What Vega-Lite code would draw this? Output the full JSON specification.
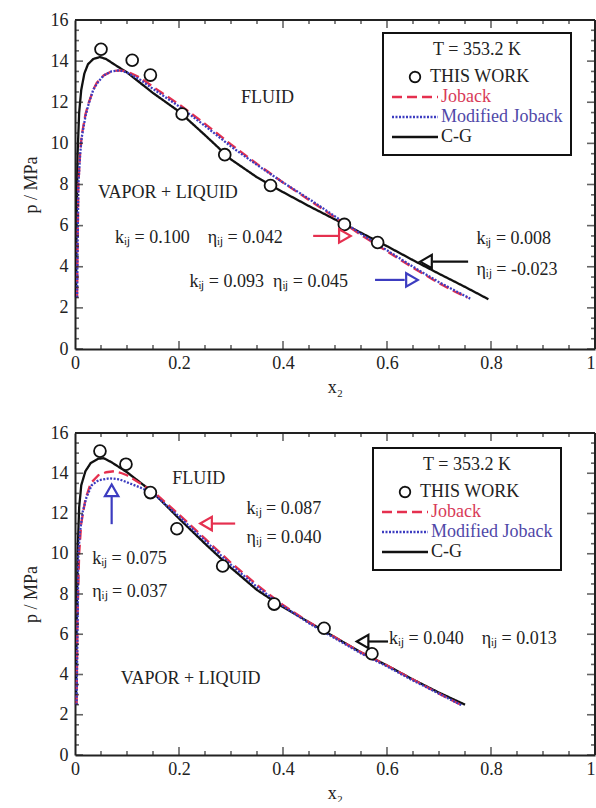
{
  "$schema": "https://vega.github.io/schema/vega-lite/v6.json",
  "background": "white",
  "padding": {"left": 22, "top": 11, "right": 0, "bottom": 0},
  "config": {
    "font": "Liberation Serif",
    "view": {"stroke": null},
    "concat": {"spacing": 28},
    "axis": {
      "grid": false,
      "domain": true,
      "domainColor": "#222",
      "domainWidth": 2,
      "ticks": false,
      "labelFont": "Liberation Serif",
      "labelFontSize": 18,
      "labelColor": "#222",
      "titleFont": "Liberation Serif",
      "titleFontSize": 18,
      "titleFontWeight": "normal",
      "titleColor": "#222",
      "labelOverlap": false,
      "labelFlush": false
    },
    "legend": {
      "titleFont": "Liberation Serif", "titleFontSize": 18, "titleFontWeight": "normal", "titleColor": "#222", "titleAnchor": "middle", "titlePadding": 8,
      "labelFont": "Liberation Serif", "labelFontSize": 18,
      "symbolSize": 2116, "clipHeight": 20, "rowPadding": 0,
      "strokeColor": "#111", "fillColor": "white", "padding": 8, "strokeWidth": 2
    }
  },
  "datasets": {
    "xticks": [
      {"v": 0, "kind": "major"}, {"v": 0.05, "kind": "minor"}, {"v": 0.1, "kind": "minor"}, {"v": 0.15, "kind": "minor"},
      {"v": 0.2, "kind": "major"}, {"v": 0.25, "kind": "minor"}, {"v": 0.3, "kind": "minor"}, {"v": 0.35, "kind": "minor"},
      {"v": 0.4, "kind": "major"}, {"v": 0.45, "kind": "minor"}, {"v": 0.5, "kind": "minor"}, {"v": 0.55, "kind": "minor"},
      {"v": 0.6, "kind": "major"}, {"v": 0.65, "kind": "minor"}, {"v": 0.7, "kind": "minor"}, {"v": 0.75, "kind": "minor"},
      {"v": 0.8, "kind": "major"}, {"v": 0.85, "kind": "minor"}, {"v": 0.9, "kind": "minor"}, {"v": 0.95, "kind": "minor"},
      {"v": 1, "kind": "major"}
    ],
    "yticks": [
      {"v": 0, "kind": "major"}, {"v": 0.5, "kind": "minor"}, {"v": 1, "kind": "minor"}, {"v": 1.5, "kind": "minor"},
      {"v": 2, "kind": "major"}, {"v": 2.5, "kind": "minor"}, {"v": 3, "kind": "minor"}, {"v": 3.5, "kind": "minor"},
      {"v": 4, "kind": "major"}, {"v": 4.5, "kind": "minor"}, {"v": 5, "kind": "minor"}, {"v": 5.5, "kind": "minor"},
      {"v": 6, "kind": "major"}, {"v": 6.5, "kind": "minor"}, {"v": 7, "kind": "minor"}, {"v": 7.5, "kind": "minor"},
      {"v": 8, "kind": "major"}, {"v": 8.5, "kind": "minor"}, {"v": 9, "kind": "minor"}, {"v": 9.5, "kind": "minor"},
      {"v": 10, "kind": "major"}, {"v": 10.5, "kind": "minor"}, {"v": 11, "kind": "minor"}, {"v": 11.5, "kind": "minor"},
      {"v": 12, "kind": "major"}, {"v": 12.5, "kind": "minor"}, {"v": 13, "kind": "minor"}, {"v": 13.5, "kind": "minor"},
      {"v": 14, "kind": "major"}, {"v": 14.5, "kind": "minor"}, {"v": 15, "kind": "minor"}, {"v": 15.5, "kind": "minor"},
      {"v": 16, "kind": "major"}
    ],
    "top_curves": [
      {"series": "C-G", "x": 0.002, "p": 2.5},
      {"series": "C-G", "x": 0.003, "p": 6.0},
      {"series": "C-G", "x": 0.005, "p": 9.5},
      {"series": "C-G", "x": 0.008, "p": 11.5},
      {"series": "C-G", "x": 0.012, "p": 12.6},
      {"series": "C-G", "x": 0.018, "p": 13.4},
      {"series": "C-G", "x": 0.025, "p": 13.85},
      {"series": "C-G", "x": 0.035, "p": 14.1},
      {"series": "C-G", "x": 0.048, "p": 14.2},
      {"series": "C-G", "x": 0.06, "p": 14.1},
      {"series": "C-G", "x": 0.075, "p": 13.85},
      {"series": "C-G", "x": 0.1, "p": 13.45},
      {"series": "C-G", "x": 0.125, "p": 12.95},
      {"series": "C-G", "x": 0.15, "p": 12.45},
      {"series": "C-G", "x": 0.175, "p": 12.0},
      {"series": "C-G", "x": 0.2, "p": 11.55},
      {"series": "C-G", "x": 0.25, "p": 10.4},
      {"series": "C-G", "x": 0.3, "p": 9.22},
      {"series": "C-G", "x": 0.35, "p": 8.35},
      {"series": "C-G", "x": 0.4, "p": 7.63},
      {"series": "C-G", "x": 0.45, "p": 6.95},
      {"series": "C-G", "x": 0.5, "p": 6.3},
      {"series": "C-G", "x": 0.55, "p": 5.65},
      {"series": "C-G", "x": 0.6, "p": 5.0},
      {"series": "C-G", "x": 0.65, "p": 4.32},
      {"series": "C-G", "x": 0.7, "p": 3.66},
      {"series": "C-G", "x": 0.75, "p": 3.02},
      {"series": "C-G", "x": 0.795, "p": 2.42},
      {"series": "Joback", "x": 0.004, "p": 2.5},
      {"series": "Joback", "x": 0.005, "p": 5.0},
      {"series": "Joback", "x": 0.0065, "p": 8.0},
      {"series": "Joback", "x": 0.01, "p": 9.6},
      {"series": "Joback", "x": 0.013, "p": 10.4},
      {"series": "Joback", "x": 0.02, "p": 11.4},
      {"series": "Joback", "x": 0.026, "p": 11.95},
      {"series": "Joback", "x": 0.035, "p": 12.6},
      {"series": "Joback", "x": 0.042, "p": 12.95},
      {"series": "Joback", "x": 0.055, "p": 13.3},
      {"series": "Joback", "x": 0.07, "p": 13.5},
      {"series": "Joback", "x": 0.085, "p": 13.55},
      {"series": "Joback", "x": 0.1, "p": 13.5},
      {"series": "Joback", "x": 0.125, "p": 13.2},
      {"series": "Joback", "x": 0.15, "p": 12.75},
      {"series": "Joback", "x": 0.2, "p": 11.9},
      {"series": "Joback", "x": 0.25, "p": 10.95},
      {"series": "Joback", "x": 0.3, "p": 9.95},
      {"series": "Joback", "x": 0.35, "p": 9.0},
      {"series": "Joback", "x": 0.4, "p": 8.1},
      {"series": "Joback", "x": 0.45, "p": 7.25},
      {"series": "Joback", "x": 0.5, "p": 6.4},
      {"series": "Joback", "x": 0.55, "p": 5.55},
      {"series": "Joback", "x": 0.6, "p": 4.75},
      {"series": "Joback", "x": 0.65, "p": 3.95},
      {"series": "Joback", "x": 0.7, "p": 3.2},
      {"series": "Joback", "x": 0.73, "p": 2.8},
      {"series": "Joback", "x": 0.755, "p": 2.5},
      {"series": "Modified Joback", "x": 0.004, "p": 2.5},
      {"series": "Modified Joback", "x": 0.005, "p": 5.0},
      {"series": "Modified Joback", "x": 0.0065, "p": 8.0},
      {"series": "Modified Joback", "x": 0.01, "p": 9.5},
      {"series": "Modified Joback", "x": 0.013, "p": 10.3},
      {"series": "Modified Joback", "x": 0.02, "p": 11.3},
      {"series": "Modified Joback", "x": 0.026, "p": 11.9},
      {"series": "Modified Joback", "x": 0.035, "p": 12.6},
      {"series": "Modified Joback", "x": 0.042, "p": 12.9},
      {"series": "Modified Joback", "x": 0.055, "p": 13.3},
      {"series": "Modified Joback", "x": 0.07, "p": 13.5},
      {"series": "Modified Joback", "x": 0.085, "p": 13.55},
      {"series": "Modified Joback", "x": 0.1, "p": 13.45},
      {"series": "Modified Joback", "x": 0.125, "p": 13.1},
      {"series": "Modified Joback", "x": 0.15, "p": 12.65},
      {"series": "Modified Joback", "x": 0.2, "p": 11.8},
      {"series": "Modified Joback", "x": 0.25, "p": 10.85},
      {"series": "Modified Joback", "x": 0.3, "p": 9.85},
      {"series": "Modified Joback", "x": 0.35, "p": 8.95},
      {"series": "Modified Joback", "x": 0.4, "p": 8.1},
      {"series": "Modified Joback", "x": 0.45, "p": 7.3},
      {"series": "Modified Joback", "x": 0.5, "p": 6.45},
      {"series": "Modified Joback", "x": 0.55, "p": 5.6},
      {"series": "Modified Joback", "x": 0.6, "p": 4.8},
      {"series": "Modified Joback", "x": 0.65, "p": 4.0},
      {"series": "Modified Joback", "x": 0.7, "p": 3.25},
      {"series": "Modified Joback", "x": 0.73, "p": 2.85},
      {"series": "Modified Joback", "x": 0.76, "p": 2.45}
    ],
    "top_points": [
      {"series": "THIS WORK", "x": 0.05, "p": 14.58},
      {"series": "THIS WORK", "x": 0.11, "p": 14.04},
      {"series": "THIS WORK", "x": 0.145, "p": 13.32},
      {"series": "THIS WORK", "x": 0.206, "p": 11.43},
      {"series": "THIS WORK", "x": 0.288, "p": 9.45},
      {"series": "THIS WORK", "x": 0.376, "p": 7.95},
      {"series": "THIS WORK", "x": 0.518, "p": 6.06},
      {"series": "THIS WORK", "x": 0.582, "p": 5.18}
    ],
    "top_arrows": [
      {"series": "Joback", "dir": "right", "x": 0.458, "x2": 0.508, "p": 5.5, "p2": 5.5, "hx": 0.519, "hp": 5.5},
      {"series": "Modified Joback", "dir": "right", "x": 0.577, "x2": 0.634, "p": 3.36, "p2": 3.36, "hx": 0.648, "hp": 3.36},
      {"series": "C-G", "dir": "left", "x": 0.756, "x2": 0.688, "p": 4.25, "p2": 4.25, "hx": 0.675, "hp": 4.25}
    ],
    "top_labels": [
      {"x": 0.319, "p": 12.2, "text": "FLUID"},
      {"x": 0.044, "p": 7.6, "text": "VAPOR + LIQUID"},
      {"x": 0.077, "p": 5.42, "text": "kᵢⱼ = 0.100\u00a0\u00a0\u00a0\u00a0ηᵢⱼ = 0.042"},
      {"x": 0.22, "p": 3.26, "text": "kᵢⱼ = 0.093\u00a0\u00a0ηᵢⱼ = 0.045"},
      {"x": 0.772, "p": 5.35, "text": "kᵢⱼ = 0.008"},
      {"x": 0.772, "p": 3.84, "text": "ηᵢⱼ = -0.023"}
    ],
    "bottom_curves": [
      {"series": "C-G", "x": 0.002, "p": 2.5},
      {"series": "C-G", "x": 0.003, "p": 6.0},
      {"series": "C-G", "x": 0.005, "p": 10.0},
      {"series": "C-G", "x": 0.008, "p": 12.3},
      {"series": "C-G", "x": 0.012, "p": 13.4},
      {"series": "C-G", "x": 0.02, "p": 14.1},
      {"series": "C-G", "x": 0.03, "p": 14.5},
      {"series": "C-G", "x": 0.045, "p": 14.72},
      {"series": "C-G", "x": 0.055, "p": 14.75},
      {"series": "C-G", "x": 0.07, "p": 14.55},
      {"series": "C-G", "x": 0.085, "p": 14.3},
      {"series": "C-G", "x": 0.1, "p": 14.05},
      {"series": "C-G", "x": 0.125, "p": 13.55},
      {"series": "C-G", "x": 0.15, "p": 13.05},
      {"series": "C-G", "x": 0.175, "p": 12.4},
      {"series": "C-G", "x": 0.2, "p": 11.75},
      {"series": "C-G", "x": 0.25, "p": 10.5},
      {"series": "C-G", "x": 0.3, "p": 9.3},
      {"series": "C-G", "x": 0.35, "p": 8.2},
      {"series": "C-G", "x": 0.4, "p": 7.35},
      {"series": "C-G", "x": 0.45, "p": 6.6},
      {"series": "C-G", "x": 0.5, "p": 5.85},
      {"series": "C-G", "x": 0.55, "p": 5.1},
      {"series": "C-G", "x": 0.6, "p": 4.45},
      {"series": "C-G", "x": 0.65, "p": 3.75},
      {"series": "C-G", "x": 0.7, "p": 3.1},
      {"series": "C-G", "x": 0.75, "p": 2.5},
      {"series": "Joback", "x": 0.003, "p": 2.5},
      {"series": "Joback", "x": 0.005, "p": 7.0},
      {"series": "Joback", "x": 0.008, "p": 10.0},
      {"series": "Joback", "x": 0.012, "p": 11.5},
      {"series": "Joback", "x": 0.02, "p": 12.7},
      {"series": "Joback", "x": 0.03, "p": 13.5},
      {"series": "Joback", "x": 0.045, "p": 13.9},
      {"series": "Joback", "x": 0.06, "p": 14.05},
      {"series": "Joback", "x": 0.075, "p": 14.1},
      {"series": "Joback", "x": 0.09, "p": 14.0},
      {"series": "Joback", "x": 0.1, "p": 13.9},
      {"series": "Joback", "x": 0.125, "p": 13.5},
      {"series": "Joback", "x": 0.15, "p": 13.1},
      {"series": "Joback", "x": 0.2, "p": 11.95},
      {"series": "Joback", "x": 0.25, "p": 10.75},
      {"series": "Joback", "x": 0.3, "p": 9.55},
      {"series": "Joback", "x": 0.35, "p": 8.45},
      {"series": "Joback", "x": 0.4, "p": 7.45},
      {"series": "Joback", "x": 0.45, "p": 6.6},
      {"series": "Joback", "x": 0.5, "p": 5.85},
      {"series": "Joback", "x": 0.55, "p": 5.1},
      {"series": "Joback", "x": 0.6, "p": 4.45},
      {"series": "Joback", "x": 0.65, "p": 3.75},
      {"series": "Joback", "x": 0.7, "p": 3.05},
      {"series": "Joback", "x": 0.745, "p": 2.45},
      {"series": "Modified Joback", "x": 0.003, "p": 2.5},
      {"series": "Modified Joback", "x": 0.005, "p": 6.5},
      {"series": "Modified Joback", "x": 0.0064, "p": 9.96},
      {"series": "Modified Joback", "x": 0.0096, "p": 11.1},
      {"series": "Modified Joback", "x": 0.015, "p": 12.1},
      {"series": "Modified Joback", "x": 0.022, "p": 12.8},
      {"series": "Modified Joback", "x": 0.032, "p": 13.4},
      {"series": "Modified Joback", "x": 0.045, "p": 13.65},
      {"series": "Modified Joback", "x": 0.067, "p": 13.75},
      {"series": "Modified Joback", "x": 0.085, "p": 13.7},
      {"series": "Modified Joback", "x": 0.1, "p": 13.55},
      {"series": "Modified Joback", "x": 0.125, "p": 13.3},
      {"series": "Modified Joback", "x": 0.15, "p": 13.0},
      {"series": "Modified Joback", "x": 0.2, "p": 11.85},
      {"series": "Modified Joback", "x": 0.25, "p": 10.65},
      {"series": "Modified Joback", "x": 0.3, "p": 9.45},
      {"series": "Modified Joback", "x": 0.35, "p": 8.35},
      {"series": "Modified Joback", "x": 0.4, "p": 7.4},
      {"series": "Modified Joback", "x": 0.45, "p": 6.55},
      {"series": "Modified Joback", "x": 0.5, "p": 5.8},
      {"series": "Modified Joback", "x": 0.55, "p": 5.05},
      {"series": "Modified Joback", "x": 0.6, "p": 4.4},
      {"series": "Modified Joback", "x": 0.65, "p": 3.7},
      {"series": "Modified Joback", "x": 0.7, "p": 3.05},
      {"series": "Modified Joback", "x": 0.745, "p": 2.45}
    ],
    "bottom_points": [
      {"series": "THIS WORK", "x": 0.048, "p": 15.1},
      {"series": "THIS WORK", "x": 0.098, "p": 14.45},
      {"series": "THIS WORK", "x": 0.145, "p": 13.04},
      {"series": "THIS WORK", "x": 0.196, "p": 11.24},
      {"series": "THIS WORK", "x": 0.284, "p": 9.39},
      {"series": "THIS WORK", "x": 0.383, "p": 7.5},
      {"series": "THIS WORK", "x": 0.479, "p": 6.3},
      {"series": "THIS WORK", "x": 0.571, "p": 5.03}
    ],
    "bottom_arrows": [
      {"series": "Joback", "dir": "left", "x": 0.308, "x2": 0.262, "p": 11.5, "p2": 11.5, "hx": 0.252, "hp": 11.5},
      {"series": "Modified Joback", "dir": "up", "x": 0.0705, "x2": 0.0705, "p": 11.47, "p2": 12.85, "hx": 0.0705, "hp": 13.15},
      {"series": "C-G", "dir": "left", "x": 0.602, "x2": 0.565, "p": 5.64, "p2": 5.64, "hx": 0.553, "hp": 5.64}
    ],
    "bottom_labels": [
      {"x": 0.187, "p": 13.69, "text": "FLUID"},
      {"x": 0.33, "p": 12.23, "text": "kᵢⱼ = 0.087"},
      {"x": 0.33, "p": 10.77, "text": "ηᵢⱼ = 0.040"},
      {"x": 0.033, "p": 9.73, "text": "kᵢⱼ = 0.075"},
      {"x": 0.033, "p": 8.12, "text": "ηᵢⱼ = 0.037"},
      {"x": 0.088, "p": 3.78, "text": "VAPOR + LIQUID"},
      {"x": 0.604, "p": 5.75, "text": "kᵢⱼ = 0.040\u00a0\u00a0\u00a0\u00a0ηᵢⱼ = 0.013"}
    ]
  },
  "vconcat": [
    {
      "width": 520,
      "height": 329,
      "layer": [
        {
          "data": {"name": "top_curves"},
          "mark": {"type": "line", "strokeWidth": 2.3},
          "encoding": {
            "x": {"field": "x", "type": "quantitative", "scale": {"domain": [0, 1], "nice": false},
              "axis": {"orient": "bottom", "title": "x₂", "titlePadding": 6, "labelPadding": 5,
                "values": [0, 0.2, 0.4, 0.6, 0.8, 1],
                "labelExpr": "format(datum.value, '~g')",
                "labelAlign": {"condition": {"test": "datum.value == 1", "value": "right"}, "value": "center"}}},
            "y": {"field": "p", "type": "quantitative", "scale": {"domain": [0, 16], "nice": false},
              "axis": {"orient": "left", "title": "p / MPa", "titlePadding": 10, "labelPadding": 7,
                "values": [0, 2, 4, 6, 8, 10, 12, 14, 16]}},
            "color": {"field": "series", "type": "nominal",
              "scale": {"domain": ["THIS WORK", "Joback", "Modified Joback", "C-G"], "range": ["#111111", "#e5304f", "#3c3cc0", "#111111"]},
              "legend": {
                "title": "T = 353.2 K", "orient": "none", "legendX": 308, "legendY": 13,
                "encode": {
                  "symbols": {"update": {
                    "x": {"value": 24},
                    "shape": {"signal": "datum.value === 'THIS WORK' ? 'circle' : 'stroke'"},
                    "size": {"signal": "datum.value === 'THIS WORK' ? 110 : 2116"},
                    "strokeDash": {"signal": "datum.value === 'Joback' ? [10,5] : datum.value === 'Modified Joback' ? [2,1.5] : [1,0]"},
                    "strokeWidth": {"signal": "datum.value === 'THIS WORK' ? 1.8 : 2.3"},
                    "stroke": {"signal": "datum.value === 'Joback' ? '#e5304f' : datum.value === 'Modified Joback' ? '#3c3cc0' : '#111111'"},
                    "fill": {"value": "transparent"},
                    "opacity": {"value": 1}
                  }},
                  "labels": {"update": {
                    "x": {"signal": "datum.value === 'THIS WORK' ? 39 : 50"},
                    "fill": {"signal": "datum.value === 'Joback' ? '#d83a58' : datum.value === 'Modified Joback' ? '#5048a8' : '#222222'"}
                  }}
                }
              }},
            "strokeDash": {"field": "series", "type": "nominal",
              "scale": {"domain": ["Joback", "Modified Joback", "C-G"], "range": [[10, 5], [2, 1.5], [1, 0]]}, "legend": null}
          }
        },
        {
          "data": {"name": "xticks"},
          "mark": {"type": "tick", "orient": "vertical", "clip": true, "thickness": 1.6, "color": "#222"},
          "encoding": {
            "x": {"field": "v", "type": "quantitative"},
            "y": {"datum": 0, "type": "quantitative"},
            "size": {"field": "kind", "type": "ordinal", "scale": {"domain": ["major", "minor"], "range": [16, 8]}, "legend": null}
          }
        },
        {
          "data": {"name": "xticks"},
          "mark": {"type": "tick", "orient": "vertical", "clip": true, "thickness": 1.6, "color": "#222"},
          "encoding": {
            "x": {"field": "v", "type": "quantitative"},
            "y": {"datum": 16, "type": "quantitative"},
            "size": {"field": "kind", "type": "ordinal", "legend": null}
          }
        },
        {
          "data": {"name": "yticks"},
          "mark": {"type": "tick", "orient": "horizontal", "clip": true, "thickness": 1.6, "color": "#222"},
          "encoding": {
            "y": {"field": "v", "type": "quantitative"},
            "x": {"datum": 0, "type": "quantitative"},
            "size": {"field": "kind", "type": "ordinal", "legend": null}
          }
        },
        {
          "data": {"name": "yticks"},
          "mark": {"type": "tick", "orient": "horizontal", "clip": true, "thickness": 1.6, "color": "#222"},
          "encoding": {
            "y": {"field": "v", "type": "quantitative"},
            "x": {"datum": 1, "type": "quantitative"},
            "size": {"field": "kind", "type": "ordinal", "legend": null}
          }
        },
        {
          "data": {"values": [{}]},
          "mark": {"type": "rule", "strokeWidth": 2, "color": "#222"},
          "encoding": {
            "x": {"datum": 0, "type": "quantitative"},
            "x2": {"datum": 1},
            "y": {"datum": 16, "type": "quantitative"}
          }
        },
        {
          "data": {"values": [{}]},
          "mark": {"type": "rule", "strokeWidth": 2, "color": "#222"},
          "encoding": {
            "x": {"datum": 1, "type": "quantitative"},
            "y": {"datum": 0, "type": "quantitative"},
            "y2": {"datum": 16}
          }
        },
        {
          "data": {"name": "top_points"},
          "mark": {"type": "point", "filled": false, "fill": "white", "fillOpacity": 1, "size": 140, "strokeWidth": 1.8, "opacity": 1},
          "encoding": {
            "x": {"field": "x", "type": "quantitative"},
            "y": {"field": "p", "type": "quantitative"},
            "color": {"field": "series", "type": "nominal"}
          }
        },
        {
          "data": {"name": "top_arrows"},
          "mark": {"type": "rule", "strokeWidth": 2.2},
          "encoding": {
            "x": {"field": "x", "type": "quantitative"},
            "x2": {"field": "x2"},
            "y": {"field": "p", "type": "quantitative"},
            "y2": {"field": "p2"},
            "color": {"field": "series", "type": "nominal"}
          }
        },
        {
          "data": {"name": "top_arrows"},
          "mark": {"type": "point", "filled": false, "fill": "white", "fillOpacity": 1, "size": 180, "strokeWidth": 2.2, "opacity": 1},
          "encoding": {
            "x": {"field": "hx", "type": "quantitative"},
            "y": {"field": "hp", "type": "quantitative"},
            "shape": {"field": "dir", "type": "nominal", "scale": {"domain": ["right", "left", "up"], "range": ["triangle-right", "triangle-left", "triangle-up"]}, "legend": null},
            "color": {"field": "series", "type": "nominal"}
          }
        },
        {
          "data": {"name": "top_labels"},
          "mark": {"type": "text", "align": "left", "baseline": "middle", "font": "Liberation Serif", "fontSize": 18, "color": "#222"},
          "encoding": {
            "x": {"field": "x", "type": "quantitative"},
            "y": {"field": "p", "type": "quantitative"},
            "text": {"field": "text"}
          }
        }
      ]
    },
    {
      "width": 520,
      "height": 322,
      "layer": [
        {
          "data": {"name": "bottom_curves"},
          "mark": {"type": "line", "strokeWidth": 2.3},
          "encoding": {
            "x": {"field": "x", "type": "quantitative", "scale": {"domain": [0, 1], "nice": false},
              "axis": {"orient": "bottom", "title": "x₂", "titlePadding": 6, "labelPadding": 5,
                "values": [0, 0.2, 0.4, 0.6, 0.8, 1],
                "labelExpr": "format(datum.value, '~g')",
                "labelAlign": {"condition": {"test": "datum.value == 1", "value": "right"}, "value": "center"}}},
            "y": {"field": "p", "type": "quantitative", "scale": {"domain": [0, 16], "nice": false},
              "axis": {"orient": "left", "title": "p / MPa", "titlePadding": 10, "labelPadding": 7,
                "values": [0, 2, 4, 6, 8, 10, 12, 14, 16]}},
            "color": {"field": "series", "type": "nominal",
              "scale": {"domain": ["THIS WORK", "Joback", "Modified Joback", "C-G"], "range": ["#111111", "#e5304f", "#3c3cc0", "#111111"]},
              "legend": {
                "title": "T = 353.2 K", "orient": "none", "legendX": 298, "legendY": 15,
                "encode": {
                  "symbols": {"update": {
                    "x": {"value": 24},
                    "shape": {"signal": "datum.value === 'THIS WORK' ? 'circle' : 'stroke'"},
                    "size": {"signal": "datum.value === 'THIS WORK' ? 110 : 2116"},
                    "strokeDash": {"signal": "datum.value === 'Joback' ? [10,5] : datum.value === 'Modified Joback' ? [2,1.5] : [1,0]"},
                    "strokeWidth": {"signal": "datum.value === 'THIS WORK' ? 1.8 : 2.3"},
                    "stroke": {"signal": "datum.value === 'Joback' ? '#e5304f' : datum.value === 'Modified Joback' ? '#3c3cc0' : '#111111'"},
                    "fill": {"value": "transparent"},
                    "opacity": {"value": 1}
                  }},
                  "labels": {"update": {
                    "x": {"signal": "datum.value === 'THIS WORK' ? 39 : 50"},
                    "fill": {"signal": "datum.value === 'Joback' ? '#d83a58' : datum.value === 'Modified Joback' ? '#5048a8' : '#222222'"}
                  }}
                }
              }},
            "strokeDash": {"field": "series", "type": "nominal",
              "scale": {"domain": ["Joback", "Modified Joback", "C-G"], "range": [[10, 5], [2, 1.5], [1, 0]]}, "legend": null}
          }
        },
        {
          "data": {"name": "xticks"},
          "mark": {"type": "tick", "orient": "vertical", "clip": true, "thickness": 1.6, "color": "#222"},
          "encoding": {
            "x": {"field": "v", "type": "quantitative"},
            "y": {"datum": 0, "type": "quantitative"},
            "size": {"field": "kind", "type": "ordinal", "scale": {"domain": ["major", "minor"], "range": [16, 8]}, "legend": null}
          }
        },
        {
          "data": {"name": "xticks"},
          "mark": {"type": "tick", "orient": "vertical", "clip": true, "thickness": 1.6, "color": "#222"},
          "encoding": {
            "x": {"field": "v", "type": "quantitative"},
            "y": {"datum": 16, "type": "quantitative"},
            "size": {"field": "kind", "type": "ordinal", "legend": null}
          }
        },
        {
          "data": {"name": "yticks"},
          "mark": {"type": "tick", "orient": "horizontal", "clip": true, "thickness": 1.6, "color": "#222"},
          "encoding": {
            "y": {"field": "v", "type": "quantitative"},
            "x": {"datum": 0, "type": "quantitative"},
            "size": {"field": "kind", "type": "ordinal", "legend": null}
          }
        },
        {
          "data": {"name": "yticks"},
          "mark": {"type": "tick", "orient": "horizontal", "clip": true, "thickness": 1.6, "color": "#222"},
          "encoding": {
            "y": {"field": "v", "type": "quantitative"},
            "x": {"datum": 1, "type": "quantitative"},
            "size": {"field": "kind", "type": "ordinal", "legend": null}
          }
        },
        {
          "data": {"values": [{}]},
          "mark": {"type": "rule", "strokeWidth": 2, "color": "#222"},
          "encoding": {
            "x": {"datum": 0, "type": "quantitative"},
            "x2": {"datum": 1},
            "y": {"datum": 16, "type": "quantitative"}
          }
        },
        {
          "data": {"values": [{}]},
          "mark": {"type": "rule", "strokeWidth": 2, "color": "#222"},
          "encoding": {
            "x": {"datum": 1, "type": "quantitative"},
            "y": {"datum": 0, "type": "quantitative"},
            "y2": {"datum": 16}
          }
        },
        {
          "data": {"name": "bottom_points"},
          "mark": {"type": "point", "filled": false, "fill": "white", "fillOpacity": 1, "size": 140, "strokeWidth": 1.8, "opacity": 1},
          "encoding": {
            "x": {"field": "x", "type": "quantitative"},
            "y": {"field": "p", "type": "quantitative"},
            "color": {"field": "series", "type": "nominal"}
          }
        },
        {
          "data": {"name": "bottom_arrows"},
          "mark": {"type": "rule", "strokeWidth": 2.2},
          "encoding": {
            "x": {"field": "x", "type": "quantitative"},
            "x2": {"field": "x2"},
            "y": {"field": "p", "type": "quantitative"},
            "y2": {"field": "p2"},
            "color": {"field": "series", "type": "nominal"}
          }
        },
        {
          "data": {"name": "bottom_arrows"},
          "mark": {"type": "point", "filled": false, "fill": "white", "fillOpacity": 1, "size": 180, "strokeWidth": 2.2, "opacity": 1},
          "encoding": {
            "x": {"field": "hx", "type": "quantitative"},
            "y": {"field": "hp", "type": "quantitative"},
            "shape": {"field": "dir", "type": "nominal", "scale": {"domain": ["right", "left", "up"], "range": ["triangle-right", "triangle-left", "triangle-up"]}, "legend": null},
            "color": {"field": "series", "type": "nominal"}
          }
        },
        {
          "data": {"name": "bottom_labels"},
          "mark": {"type": "text", "align": "left", "baseline": "middle", "font": "Liberation Serif", "fontSize": 18, "color": "#222"},
          "encoding": {
            "x": {"field": "x", "type": "quantitative"},
            "y": {"field": "p", "type": "quantitative"},
            "text": {"field": "text"}
          }
        }
      ]
    }
  ],
  "resolve": {"scale": {"color": "independent", "x": "independent", "y": "independent", "strokeDash": "independent", "shape": "independent", "size": "independent"}, "legend": {"color": "independent"}}
}
